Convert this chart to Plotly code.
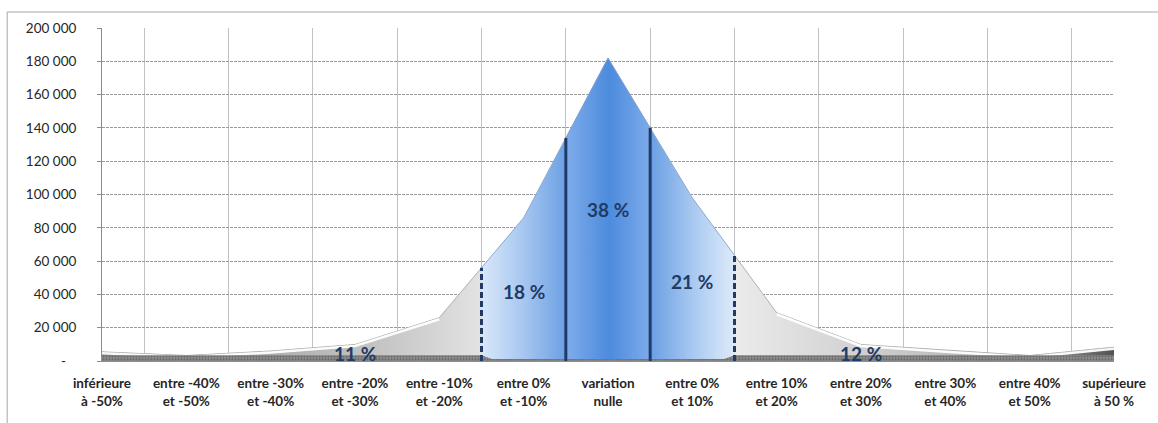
import numpy as np
import plotly.graph_objects as go

# ---------------- data ----------------
categories = [
    "inférieure<br>à -50%", "entre -40%<br>et -50%", "entre -30%<br>et -40%",
    "entre -20%<br>et -30%", "entre -10%<br>et -20%", "entre 0%<br>et -10%",
    "variation<br>nulle", "entre 0%<br>et 10%", "entre 10%<br>et 20%",
    "entre 20%<br>et 30%", "entre 30%<br>et 40%", "entre 40%<br>et 50%",
    "supérieure<br>à 50 %",
]
values = [5500, 3300, 6000, 9900, 26000, 86000, 182000, 98000, 29000, 9900, 6400, 3300, 8300]

y_tickvals = [0, 20000, 40000, 60000, 80000, 100000, 120000, 140000, 160000, 180000, 200000]
y_ticktext = ["-\u00a0\u00a0\u00a0", "20 000", "40 000", "60 000", "80 000", "100 000",
              "120 000", "140 000", "160 000", "180 000", "200 000"]

# share labels for the five zones
share_labels = ["11 %", "18 %", "38 %", "21 %", "12 %"]

# ---------------- layout constants (styles / positions) ----------------
W, H = 1158, 423
ML, MR, MT, MB = 102, 42, 28, 62
NAVY = "#1f3b66"
idx = np.arange(len(values))
n = len(values) - 1
bounds = [n / 2 - 1.5, n / 2 - 0.5, n / 2 + 0.5, n / 2 + 1.5]  # category boundaries 4.5..7.5
share_pos = [(3, 4800), (5, 42000), (6, 91000), (7, 48000), (9, 4800)]


def seg(x0, x1):
    xs = sorted(set([x0, x1] + [i for i in idx if x0 < i < x1]))
    return np.array(xs, float), np.interp(xs, idx, values)


fig = go.Figure()

zones = [
    (0, bounds[0], [[0, "#6e6e6e"], [0.3, "#a3a3a3"], [0.75, "#c6c6c6"], [1, "#e3e3e3"]], "#b0b0b0"),
    (bounds[0], bounds[1], [[0, "#d8e7f9"], [0.5, "#a5c6f0"], [1, "#6b9fe3"]], "#8eaad0"),
    (bounds[1], bounds[2], [[0, "#7eaceb"], [0.5, "#4d8bdd"], [1, "#7eaceb"]], "#7f9ccb"),
    (bounds[2], bounds[3], [[0, "#6b9fe3"], [0.5, "#a9c9f1"], [1, "#dfebfa"]], "#8eaad0"),
    (bounds[3], n, [[0, "#ebebeb"], [0.3, "#d3d3d3"], [0.6, "#b9b9b9"], [0.85, "#888888"], [1, "#505050"]], "#b0b0b0"),
]
for x0, x1, cs, lc in zones:
    xs, ys = seg(x0, x1)
    fig.add_trace(go.Scatter(
        x=xs, y=ys, mode="lines", fill="tozeroy",
        fillgradient=dict(type="horizontal", colorscale=cs, start=x0, stop=x1),
        line=dict(color=lc, width=1), hoverinfo="skip", showlegend=False,
    ))

# white bevel highlight on gray tails
for x0, x1 in [(0, 4), (8, n)]:
    xs, ys = seg(x0, x1)
    fig.add_trace(go.Scatter(x=xs, y=ys - 900, mode="lines",
                             line=dict(color="rgba(255,255,255,0.95)", width=2.5),
                             hoverinfo="skip", showlegend=False))

# dark base strip
xb = np.linspace(0, n, 97)
yb_curve = np.interp(xb, idx, values)
in_blue = (xb > bounds[0]) & (xb < bounds[3])
yb = np.where(in_blue, 1200, np.minimum(yb_curve, 3400))
fig.add_trace(go.Scatter(
    x=xb, y=yb, mode="lines", fill="tozeroy", line=dict(width=0, color="#777"),
    fillcolor="#7a7a7a",
    fillpattern=dict(shape=".", fgcolor="#4a4a4a", bgcolor="#8e8e8e", size=3, solidity=0.45),
    hoverinfo="skip", showlegend=False))

# boundary lines
for i, b in enumerate(bounds):
    top = float(np.interp(b, idx, values))
    dashed = i in (0, len(bounds) - 1)
    fig.add_trace(go.Scatter(
        x=[b, b], y=[0, top], mode="lines",
        line=dict(color=NAVY, width=3, dash="6px,3px" if dashed else "solid"),
        hoverinfo="skip", showlegend=False))

for (px, py), txt in zip(share_pos, share_labels):
    fig.add_annotation(x=px, y=py, text=txt, showarrow=False,
                       font=dict(family="Lato", size=19, color=NAVY, weight="bold"))

# chart border (top and left edges)
pw, ph = W - ML - MR, H - MT - MB
bx, by = (7 - ML) / pw, (H - MB - 12) / ph
fig.add_shape(type="line", xref="paper", yref="paper", x0=bx, x1=(W - ML) / pw + 0.1, y0=by, y1=by,
              line=dict(color="#a6a6a6", width=1))
fig.add_shape(type="line", xref="paper", yref="paper", x0=bx, x1=bx, y0=by, y1=-MB / ph - 0.1,
              line=dict(color="#a6a6a6", width=1))

fig.update_layout(
    width=W, height=H, margin=dict(l=ML, r=MR, t=MT, b=MB),
    paper_bgcolor="white", plot_bgcolor="white",
    font=dict(family="Lato", color="#262626"),
    xaxis=dict(
        range=[0, n], tickvals=list(idx), ticktext=categories,
        showgrid=False, zeroline=False, showline=True, linecolor="#8c8c8c", linewidth=1,
        ticks="", ticklabelstandoff=10,
        tickfont=dict(family="Lato", size=13.5, color="#262626", weight="bold"),
        minor=dict(tickvals=list(idx[:-1] + 0.5), showgrid=True, gridcolor="#c2c2c2", gridwidth=1),
    ),
    yaxis=dict(
        range=[0, 200000], tickvals=y_tickvals, ticktext=y_ticktext,
        showgrid=True, gridcolor="#9a9a9a", griddash="3px,1px", gridwidth=1,
        zeroline=False, showline=True, linecolor="#8c8c8c", linewidth=1,
        ticks="outside", ticklen=4, tickcolor="#8c8c8c", ticklabelstandoff=18,
        tickfont=dict(family="Lato", size=13.5, color="#262626"),
    ),
)

fig.write_html("out.html")
